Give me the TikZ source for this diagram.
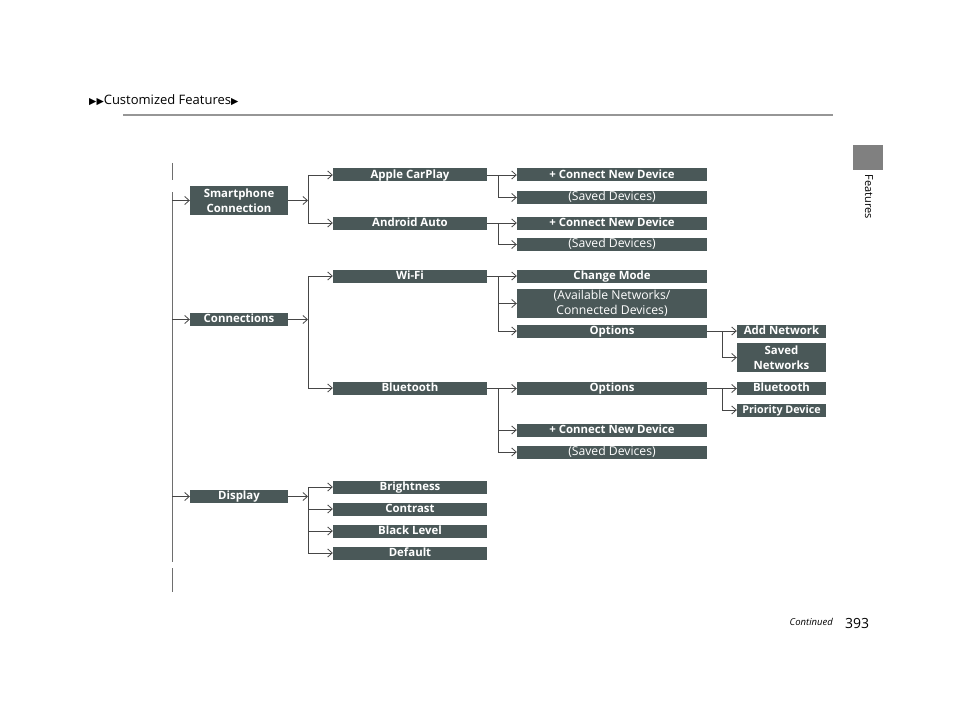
\documentclass[tikz,border=0pt]{standalone}
\usepackage{fontspec}
\setmainfont{Open Sans}
\newfontfamily\symfont{DejaVu Sans}
\usetikzlibrary{arrows.meta}
\definecolor{boxc}{RGB}{74,88,88}
\definecolor{linec}{RGB}{70,70,70}
\definecolor{vlc}{RGB}{110,110,110}
\definecolor{rulec}{RGB}{150,150,150}
\definecolor{tabc}{RGB}{128,128,128}
\tikzset{
  mbox/.style={fill=boxc, text=white, inner sep=0pt, font=\fontsize{11.4}{15}\selectfont\bfseries, align=center},
  pbox/.style={mbox, font=\fontsize{12.2}{15}\selectfont},
  lone/.style={minimum width=98pt},
  ltwo/.style={minimum width=154pt},
  lthree/.style={minimum width=190pt},
  lfour/.style={minimum width=89pt},
  sh/.style={minimum height=13pt, text height=9.6pt, text depth=3pt},
  th/.style={minimum height=29pt},
  conn/.style={draw=linec, line width=0.8pt},
  arr/.style={-{Straight Barb[length=4.5pt,width=8pt,line width=0.8pt]}},
  vl/.style={draw=vlc, line width=1pt}
}
\begin{document}
\begin{tikzpicture}[x=1pt,y=-1pt]
\useasboundingbox (0,0) rectangle (960,722);
% header
\node[anchor=west, inner sep=0pt, font=\fontsize{13}{15}\selectfont] (hdr) at (89,100) {{\symfont\fontsize{9.5}{10}\selectfont ▶▶}Customized Features{\symfont\fontsize{9.5}{10}\selectfont ▶}};
\draw[draw=rulec, line width=1.6pt] (123,115) -- (833,115);
% side tab
\node[fill=tabc, minimum width=30pt, minimum height=25pt, inner sep=0pt] (tab) at (868,157.5) {};
\node[rotate=-90, inner sep=0pt, font=\fontsize{11}{13}\selectfont] (feat) at (869,197) {Features};
% footer
\node[anchor=east, inner sep=0pt, font=\fontsize{9.5}{11}\selectfont\itshape] (cont) at (833,622) {Continued};
\node[anchor=west, inner sep=0pt, font=\fontsize{14}{16}\selectfont] (pg) at (845,623) {393};

% coordinates for spines
\coordinate (v0) at (172,0);
\coordinate (s1) at (308,0);
\coordinate (s2) at (498,0);
\coordinate (s3) at (722,0);

% left line
\draw[vl] (172,163) -- (172,180);
\draw[vl] (172,192) -- (172,562);
\draw[vl] (172,568) -- (172,592);

% level 1
\node[mbox,lone,th] (sc) at (239,200.5) {Smartphone\\Connection};
\node[mbox,lone,sh] (cn) at (239,319.5) {Connections};
\node[mbox,lone,sh] (dp) at (239,496.5) {Display};

% level 2
\node[mbox,ltwo,sh] (ac) at (410,175) {Apple CarPlay};
\node[mbox,ltwo,sh] (aa) at (410,223) {Android Auto};
\node[mbox,ltwo,sh] (wf) at (410,276) {Wi-Fi};
\node[mbox,ltwo,sh] (bt) at (410,388) {Bluetooth};
\node[mbox,ltwo,sh] (br) at (410,487) {Brightness};
\node[mbox,ltwo,sh] (ct) at (410,509) {Contrast};
\node[mbox,ltwo,sh] (bl) at (410,531) {Black Level};
\node[mbox,ltwo,sh] (df) at (410,553) {Default};

% level 3
\node[mbox,lthree,sh] (acn) at (612,175) {+ Connect New Device};
\node[pbox,lthree,sh] (asd) at (612,197.5) {(Saved Devices)};
\node[mbox,lthree,sh] (ann) at (612,223) {+ Connect New Device};
\node[pbox,lthree,sh] (and) at (612,244.5) {(Saved Devices)};
\node[mbox,lthree,sh] (cm) at (612,276) {Change Mode};
\node[pbox,lthree,th] (an) at (612,303.5) {(Available Networks/\\Connected Devices)};
\node[mbox,lthree,sh] (wo) at (612,331) {Options};
\node[mbox,lthree,sh] (bo) at (612,388.5) {Options};
\node[mbox,lthree,sh] (bn) at (612,430) {+ Connect New Device};
\node[pbox,lthree,sh] (bsd) at (612,452) {(Saved Devices)};

% level 4
\node[mbox,lfour,sh] (adn) at (781.5,331) {Add Network};
\node[mbox,lfour,th] (svn) at (781.5,357.5) {Saved\\Networks};
\node[mbox,lfour,sh] (b4) at (781.5,388.5) {Bluetooth};
\node[mbox,lfour,sh,font=\fontsize{10.7}{12}\selectfont\bfseries] (pd) at (781.5,410) {Priority Device};

% connectors from left line
\draw[conn,arr] (sc.west -| v0) -- (sc.west);
\draw[conn,arr] (cn.west -| v0) -- (cn.west);
\draw[conn,arr] (dp.west -| v0) -- (dp.west);

% level 1 -> spine
\draw[conn,arr] (sc.east) -- (sc.east -| s1);
\draw[conn,arr] (cn.east) -- (cn.east -| s1);
\draw[conn,arr] (dp.east) -- (dp.east -| s1);
\draw[conn] (ac.west -| s1) -- (aa.west -| s1);
\draw[conn] (wf.west -| s1) -- (bt.west -| s1);
\draw[conn] (br.west -| s1) -- (df.west -| s1);
\foreach \n in {ac,aa,wf,bt,br,ct,bl,df}
  \draw[conn,arr] (\n.west -| s1) -- (\n.west);

% level 2 -> level 3
\draw[conn] (ac.east) -- (ac.east -| s2) -- (asd.west -| s2);
\draw[conn] (aa.east) -- (aa.east -| s2) -- (and.west -| s2);
\draw[conn] (wf.east) -- (wf.east -| s2) -- (wo.west -| s2);
\draw[conn] (bt.east) -- (bt.east -| s2) -- (bsd.west -| s2);
\foreach \n in {acn,asd,ann,and,cm,an,wo,bo,bn,bsd}
  \draw[conn,arr] (\n.west -| s2) -- (\n.west);

% level 3 -> level 4
\draw[conn] (wo.east) -- (wo.east -| s3) -- (svn.west -| s3);
\draw[conn] (bo.east) -- (bo.east -| s3) -- (pd.west -| s3);
\foreach \n in {adn,svn,b4,pd}
  \draw[conn,arr] (\n.west -| s3) -- (\n.west);
\end{tikzpicture}
\end{document}
